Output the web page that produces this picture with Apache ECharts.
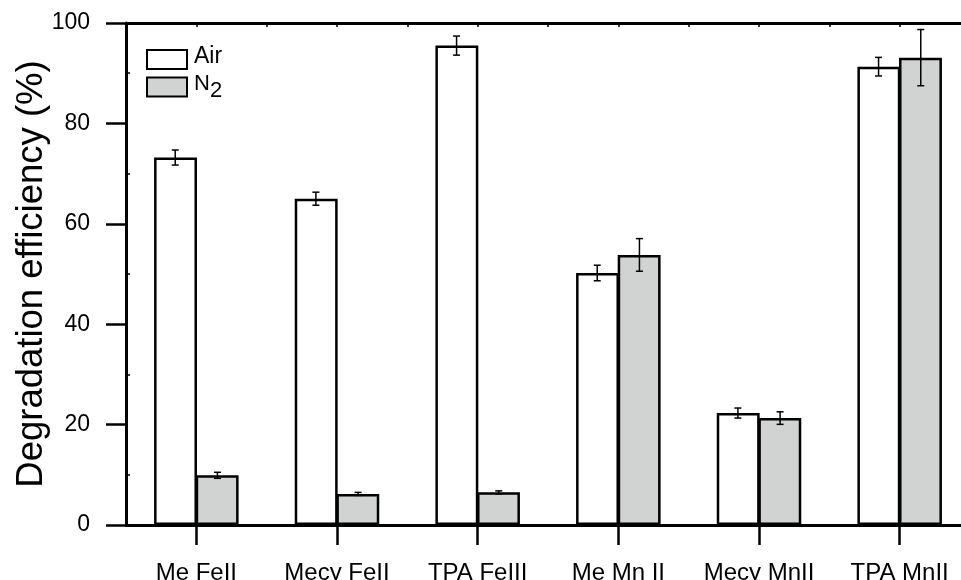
<!DOCTYPE html>
<html>
<head>
<meta charset="utf-8">
<script src="https://cdn.jsdelivr.net/npm/echarts@6/dist/echarts.min.js"></script>
<style>html,body{margin:0;padding:0;background:#fff}#c{width:961px;height:580px}</style>
</head>
<body>
<div id="c"></div>
<script>
const categories = ['Me FeII', 'Mecy FeII', 'TPA FeIII', 'Me Mn II', 'Mecy MnII', 'TPA MnII'];
const airValues = [73.2, 65.0, 95.5, 50.2, 22.3, 91.3];
const airErrors = [1.5, 1.3, 1.9, 1.55, 1.0, 1.85];
const n2Values = [9.9, 6.2, 6.5, 53.8, 21.3, 93.1];
const n2Errors = [0.6, 0.3, 0.3, 3.25, 1.25, 5.6];
const yTicks = [0, 20, 40, 60, 80, 100];

const FONT = 'Liberation Sans, Arial, sans-serif';
const chart = echarts.init(document.getElementById('c'), null, {renderer: 'canvas'});

function errorSeries(name, values, errors, sign) {
  return {
    type: 'custom',
    name: name + ' err',
    xAxisIndex: 0,
    yAxisIndex: 0,
    z: 10,
    silent: true,
    data: values.map((v, i) => [i, v, errors[i]]),
    renderItem: function (params, api) {
      const i = api.value(0), v = api.value(1), e = api.value(2);
      const bw = api.size([1, 0])[0];
      const off = sign * bw * 0.15;
      const t = api.coord([i, v + e]);
      const b = api.coord([i, v - e]);
      const x = t[0] + off;
      const h = 3.5;
      const style = {stroke: '#000', lineWidth: 1.5};
      return {
        type: 'group',
        children: [
          {type: 'line', shape: {x1: x, y1: t[1], x2: x, y2: b[1]}, style: style},
          {type: 'line', shape: {x1: x - h, y1: t[1], x2: x + h, y2: t[1]}, style: style},
          {type: 'line', shape: {x1: x - h, y1: b[1], x2: x + h, y2: b[1]}, style: style}
        ]
      };
    }
  };
}

chart.setOption({
  animation: false,
  backgroundColor: '#fff',
  textStyle: {fontFamily: FONT, color: '#000'},
  grid: {left: 126, top: 23, width: 844, height: 502, containLabel: false, outerBoundsMode: 'none'},
  legend: {
    data: ['Air', 'N2'],
    orient: 'vertical',
    left: 141,
    top: 40,
    itemWidth: 40,
    itemHeight: 19,
    itemGap: 3,
    icon: 'rect',
    formatter: function (name) {
      return name === 'N2' ? '{n|N}{s|2}' : '{a|Air}';
    },
    textStyle: {
      fontFamily: FONT, color: '#000', fontSize: 22,
      rich: {
        a: {fontFamily: FONT, fontSize: 23, color: '#000', padding: [0, 0, 6, 2]},
        n: {fontFamily: FONT, fontSize: 22, color: '#000', padding: [0, 0, 6, 2]},
        s: {fontFamily: FONT, fontSize: 22, color: '#000', padding: [8, 0, 0, 0]}
      }
    }
  },
  xAxis: [
    {
      type: 'category',
      data: categories,
      position: 'bottom',
      axisLine: {show: true, lineStyle: {color: '#000', width: 3}},
      axisTick: {show: true, alignWithLabel: true, length: 20, lineStyle: {color: '#000', width: 2.5}},
      axisLabel: {fontFamily: FONT, fontSize: 24, color: '#000', margin: 36, interval: 0, hideOverlap: false},
      splitLine: {show: false}
    },
    {
      type: 'value',
      position: 'top',
      min: 0, max: 12, interval: 1,
      axisLine: {show: true, onZero: false, lineStyle: {color: '#000', width: 3}},
      axisTick: {show: true, inside: true, length: 4, lineStyle: {color: '#000', width: 1.5}},
      axisLabel: {show: false},
      splitLine: {show: false}
    }
  ],
  yAxis: [
    {
      type: 'value',
      min: 0, max: 100, interval: 20,
      name: 'Degradation efficiency (%)',
      nameLocation: 'middle',
      nameGap: 76,
      nameMoveOverlap: false,
      nameTextStyle: {fontFamily: FONT, fontSize: 36.5, color: '#000'},
      axisLine: {show: true, lineStyle: {color: '#000', width: 3}},
      axisTick: {show: true, length: 20, lineStyle: {color: '#000', width: 2.5}},
      axisLabel: {fontFamily: FONT, fontSize: 23, color: '#000', margin: 36,
        formatter: function (v) { return yTicks.indexOf(v) >= 0 ? String(v) : ''; }},
      splitLine: {show: false}
    },
    {
      type: 'value',
      position: 'left',
      min: 0, max: 100, interval: 20,
      axisLine: {show: false},
      axisTick: {show: false, inside: true},
      minorTick: {show: true, splitNumber: 2, length: 4, lineStyle: {color: '#000', width: 1.5}},
      axisLabel: {show: false},
      splitLine: {show: false}
    }
  ],
  series: [
    {
      name: 'Air',
      type: 'bar',
      data: airValues,
      barWidth: '30.5%',
      barGap: '-3%',
      itemStyle: {color: '#ffffff', borderColor: '#000', borderWidth: 2.5}
    },
    {
      name: 'N2',
      type: 'bar',
      data: n2Values,
      barWidth: '30.5%',
      barGap: '-3%',
      itemStyle: {color: '#d1d3d2', borderColor: '#000', borderWidth: 2.5}
    },
    errorSeries('Air', airValues, airErrors, -1),
    errorSeries('N2', n2Values, n2Errors, 1)
  ]
});
</script>
</body>
</html>
